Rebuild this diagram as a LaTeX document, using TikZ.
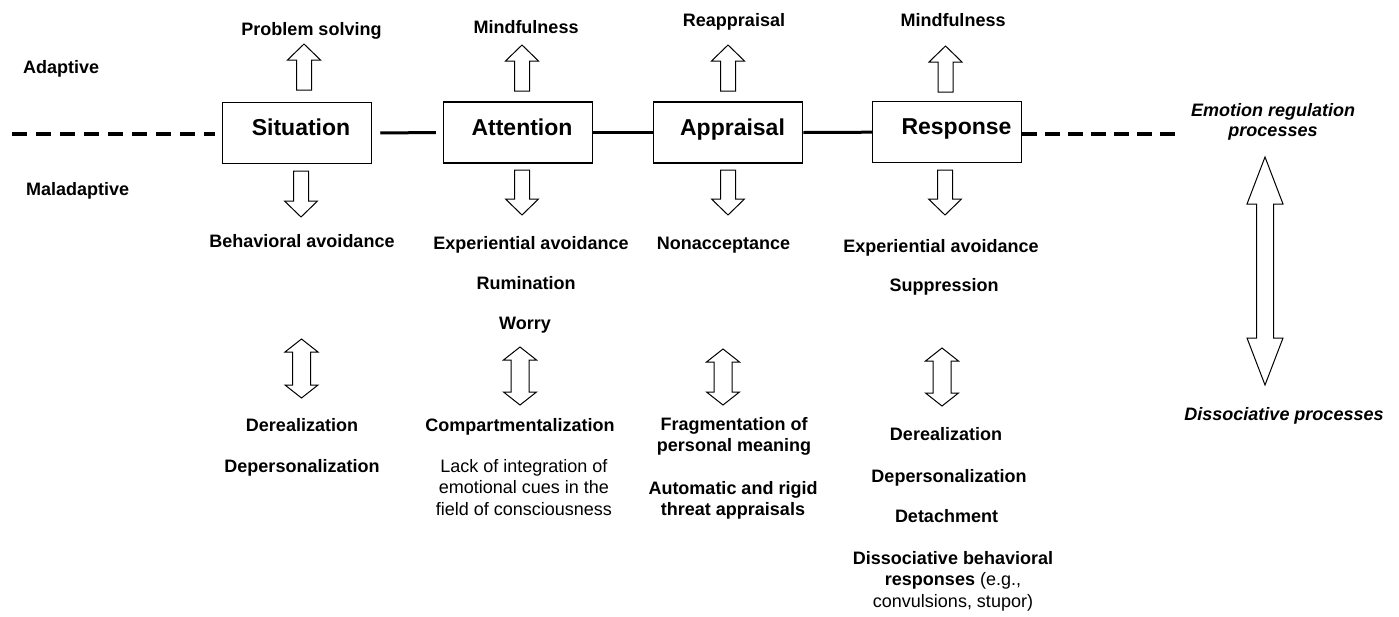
\documentclass[tikz,border=0pt]{standalone}
\usepackage{fontspec}
\setmainfont{Liberation Sans}
\begin{document}
\begin{tikzpicture}[x=1pt,y=-1pt,
  lbl/.style={font=\fontsize{18}{21.5}\selectfont\bfseries, inner sep=0pt, anchor=base, align=center},
  plain/.style={font=\fontsize{18}{21.5}\selectfont, inner sep=0pt, anchor=base, align=center},
  ital/.style={font=\fontsize{18}{20}\selectfont\bfseries\itshape, inner sep=0pt, anchor=base, align=center},
  boxlbl/.style={font=\fontsize{23}{26}\selectfont\bfseries, inner sep=0pt, anchor=base},
  stagebox/.style={draw, line width=1.1pt, minimum width=149pt, minimum height=61pt, inner sep=0pt},
  conn/.style={line width=3pt},
  dashconn/.style={line width=3.5pt, dash pattern=on 15pt off 9pt},
  blk/.style={draw, line width=1pt, fill=white, line join=miter}
]
\useasboundingbox (0,0) rectangle (1399,616);

\newcommand{\UpBlock}[3]{\draw[blk] ({#1-7.5},#3) -- ({#1-7.5},{#2+16}) -- ({#1-16.5},{#2+16}) -- (#1,#2) -- ({#1+16.5},{#2+16}) -- ({#1+7.5},{#2+16}) -- ({#1+7.5},#3) -- cycle;}
\newcommand{\DownBlock}[3]{\draw[blk] ({#1-7.5},#2) -- ({#1-7.5},{#3-16}) -- ({#1-16.5},{#3-16}) -- (#1,#3) -- ({#1+16.5},{#3-16}) -- ({#1+7.5},{#3-16}) -- ({#1+7.5},#2) -- cycle;}
\newcommand{\BothBlock}[6]{\draw[blk] (#1,#2) -- ({#1+#5},{#2+#6}) -- ({#1+#4},{#2+#6}) -- ({#1+#4},{#3-#6}) -- ({#1+#5},{#3-#6}) -- (#1,#3) -- ({#1-#5},{#3-#6}) -- ({#1-#4},{#3-#6}) -- ({#1-#4},{#2+#6}) -- ({#1-#5},{#2+#6}) -- cycle;}

% boxes
\node[stagebox] (sit) at (297.2,133) {};
\node[stagebox] (att) at (518,132.5) {};
\node[stagebox] (app) at (728.3,132.5) {};
\node[stagebox] (resp) at (947.2,132.2) {};
\node[boxlbl] (sitl) at (301,135) {Situation};
\node[boxlbl] (attl) at (522,135) {Attention};
\node[boxlbl] (appl) at (732.5,135) {Appraisal};
\node[boxlbl] (respl) at (956.5,134) {Response};

% connectors
\coordinate (lend) at (12,134);
\coordinate (rend) at (1183,134);
\draw[dashconn] (lend) -- ([xshift=-7pt]sit.west |- lend);
\draw[conn] ([xshift=8pt]sit.east) -- ([xshift=-7pt]att.west);
\draw[conn] (att.east) -- (app.west);
\draw[conn] (app.east) -- (resp.west);
\draw[dashconn, dash pattern=on 15pt off 8pt] (resp.east |- rend) -- (rend);

% side labels
\node[lbl, anchor=base west] (adapt) at (23,73) {Adaptive};
\node[lbl, anchor=base west] (malad) at (26,195) {Maladaptive};

% top labels
\node[lbl] (ps) at (311.5,35) {Problem solving};
\node[lbl] (mf1) at (526,33.3) {Mindfulness};
\node[lbl] (reap) at (734,26.7) {Reappraisal};
\node[lbl] (mf2) at (953,26.7) {Mindfulness};

% up / down block arrows
\UpBlock{304}{44}{90}
\UpBlock{522}{45}{91}
\UpBlock{728}{45}{91}
\UpBlock{945.5}{46}{92}
\DownBlock{301}{171}{217}
\DownBlock{522}{170}{215}
\DownBlock{728}{170}{215}
\DownBlock{945}{170}{215}

% maladaptive labels
\node[lbl] (beh) at (302,247) {Behavioral avoidance};
\node[lbl] (exp1) at (531,249.5) {Experiential avoidance};
\node[lbl] (rum) at (526,289) {Rumination};
\node[lbl] (wor) at (525,329) {Worry};
\node[lbl] (nonacc) at (723.5,249) {Nonacceptance};
\node[lbl] (exp2) at (941,252.5) {Experiential avoidance};
\node[lbl] (supp) at (944,291.5) {Suppression};

% small double arrows
\BothBlock{301.5}{339}{398}{9}{16.5}{13}
\BothBlock{520}{347}{405}{9}{16.5}{13}
\BothBlock{723}{349}{405}{9}{16.5}{13}
\BothBlock{942}{348}{406}{9}{16.5}{13}

% dissociative labels
\node[lbl] (der1) at (302,431.7) {Derealization};
\node[lbl] (dep1) at (302,472) {Depersonalization};
\node[lbl] (comp) at (520,431.7) {Compartmentalization};
\node[plain, anchor=north] (lack) at (523.8,459) {Lack of integration of\\emotional cues in the\\field of consciousness};
\node[lbl, anchor=north] (frag) at (734,417) {Fragmentation of\\personal meaning};
\node[lbl, anchor=north] (auto) at (733,481) {Automatic and rigid\\threat appraisals};
\node[lbl] (der2) at (946,440) {Derealization};
\node[lbl] (dep2) at (949,482) {Depersonalization};
\node[lbl] (det) at (946.5,522) {Detachment};
\node[plain, anchor=north] (dissb) at (953,551) {\textbf{Dissociative behavioral}\\\textbf{responses} (e.g.,\\convulsions, stupor)};

% right side
\node[ital, anchor=north] (erp) at (1273,103) {Emotion regulation\\processes};
\BothBlock{1265}{157}{385}{8.5}{18}{47}
\node[ital] (dp) at (1284,420) {Dissociative processes};
\end{tikzpicture}
\end{document}
